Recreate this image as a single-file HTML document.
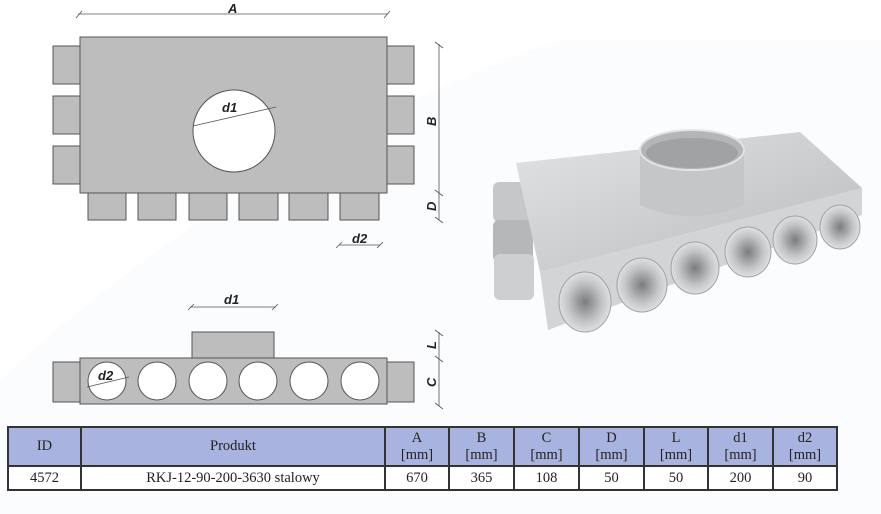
<!DOCTYPE html>
<html><head><meta charset="utf-8"><style>
body{margin:0;width:881px;height:514px;background:#fff;position:relative;overflow:hidden;font-family:"Liberation Sans",sans-serif}
svg{position:absolute;left:0;top:0}
table{position:absolute;left:7px;top:426px;border-collapse:collapse;font-family:"Liberation Serif",serif;font-size:14.5px;color:#222}
td{border:2px solid #333;text-align:center;padding:0;line-height:17px}
tr.h td{background:#a8b3df;height:37px}
tr.d td{background:#fff;height:22px}
</style></head><body>
<svg width="881" height="514" viewBox="0 0 881 514">
<defs>
<linearGradient id="m" x1="0" y1="0" x2="1" y2="1"><stop offset="0" stop-color="#e2e3e4"/><stop offset="1" stop-color="#b9bbbc"/></linearGradient>
<radialGradient id="t" cx="0.5" cy="0.5" r="0.6"><stop offset="0" stop-color="#7a7c7d"/><stop offset="0.55" stop-color="#c3c5c6"/><stop offset="1" stop-color="#eeeff0"/></radialGradient>
</defs>
<path d="M0 380 Q250 150 560 40 L881 40 L881 514 L0 514Z" fill="#fbfcfe"/>
<g stroke="#555" stroke-width="1" fill="#bdbdbd">
<rect x="53" y="46" width="27" height="38"/><rect x="53" y="96" width="27" height="38"/><rect x="53" y="146" width="27" height="38"/>
<rect x="387" y="46" width="27" height="38"/><rect x="387" y="96" width="27" height="38"/><rect x="387" y="146" width="27" height="38"/>
<rect x="88" y="193" width="38" height="27"/><rect x="138" y="193" width="38" height="27"/><rect x="189" y="193" width="38" height="27"/>
<rect x="239" y="193" width="39" height="27"/><rect x="289" y="193" width="39" height="27"/><rect x="340" y="193" width="39" height="27"/>
<rect x="80" y="37" width="307" height="156"/>
<circle cx="234" cy="131" r="41" fill="#fff"/>
<rect x="192" y="332" width="82" height="26"/>
<rect x="53" y="362" width="27" height="40"/><rect x="387" y="362" width="27" height="40"/>
<rect x="80" y="358" width="307" height="46"/>
<g fill="#fff"><circle cx="107" cy="381" r="19"/><circle cx="157" cy="381" r="19"/><circle cx="208" cy="381" r="19"/><circle cx="258" cy="381" r="19"/><circle cx="309" cy="381" r="19"/><circle cx="360" cy="381" r="19"/></g>
</g>
<g stroke="#555" stroke-width="0.8" fill="none">
<line x1="78" y1="14" x2="388" y2="14"/><line x1="76" y1="18" x2="82" y2="11"/><line x1="384" y1="18" x2="390" y2="11"/>
<line x1="193" y1="126" x2="276" y2="107"/>
<line x1="439" y1="44" x2="439" y2="220"/><line x1="435" y1="42" x2="443" y2="48"/><line x1="435" y1="190" x2="443" y2="196"/><line x1="435" y1="217" x2="443" y2="223"/>
<line x1="339" y1="245" x2="380" y2="245"/><line x1="336" y1="248" x2="342" y2="242"/><line x1="377" y1="248" x2="383" y2="242"/>
<line x1="190" y1="307" x2="276" y2="307"/><line x1="188" y1="310" x2="194" y2="304"/><line x1="272" y1="310" x2="278" y2="304"/>
<line x1="439" y1="332" x2="439" y2="406"/><line x1="435" y1="330" x2="443" y2="336"/><line x1="435" y1="356" x2="443" y2="362"/><line x1="435" y1="403" x2="443" y2="409"/>
<line x1="87" y1="387" x2="129" y2="377"/>
</g>
<g font-family="Liberation Sans" font-weight="bold" font-style="italic" font-size="13" fill="#222">
<text x="228" y="13">A</text><text x="222" y="112">d1</text><text x="352" y="243">d2</text><text x="224" y="304">d1</text><text x="98" y="380">d2</text>
<text transform="translate(436,126) rotate(-90)">B</text><text transform="translate(436,211) rotate(-90)">D</text>
<text transform="translate(436,349) rotate(-90)">L</text><text transform="translate(436,387) rotate(-90)">C</text>
</g>
<g>
<rect x="493" y="182" width="38" height="40" rx="6" fill="#c5c7c8"/>
<rect x="493" y="220" width="40" height="42" rx="6" fill="#b5b7b8"/>
<rect x="494" y="254" width="40" height="46" rx="6" fill="#cdcfd0"/>
<polygon points="516,163 800,132 862,188 540,272" fill="url(#m)"/>
<polygon points="540,272 862,188 862,215 548,330" fill="#d2d4d5"/>
<g stroke="#a0a2a3" stroke-width="1">
<ellipse cx="840" cy="227" rx="20" ry="22" fill="url(#t)"/>
<ellipse cx="795" cy="240" rx="22" ry="24" fill="url(#t)"/>
<ellipse cx="748" cy="252" rx="23" ry="25" fill="url(#t)"/>
<ellipse cx="695" cy="268" rx="24" ry="26" fill="url(#t)"/>
<ellipse cx="642" cy="285" rx="25" ry="27" fill="url(#t)"/>
<ellipse cx="585" cy="302" rx="26" ry="30" fill="url(#t)"/>
</g>
<path d="M640 150 L640 205 Q690 228 744 205 L744 150Z" fill="#c4c6c7"/>
<ellipse cx="692" cy="150" rx="52" ry="20" fill="#b3b5b6" stroke="#e2e3e4" stroke-width="2"/>
<ellipse cx="692" cy="153" rx="46" ry="15" fill="#a0a2a3"/>
</g>
</svg>
<table>
<tr class="h"><td style="width:71px">ID</td><td style="width:302px">Produkt</td><td style="width:62px">A<br>[mm]</td><td style="width:63px">B<br>[mm]</td><td style="width:63px">C<br>[mm]</td><td style="width:63px">D<br>[mm]</td><td style="width:62px">L<br>[mm]</td><td style="width:63px">d1<br>[mm]</td><td style="width:62px">d2<br>[mm]</td></tr>
<tr class="d"><td>4572</td><td>RKJ-12-90-200-3630 stalowy</td><td>670</td><td>365</td><td>108</td><td>50</td><td>50</td><td>200</td><td>90</td></tr>
</table>
</body></html>
